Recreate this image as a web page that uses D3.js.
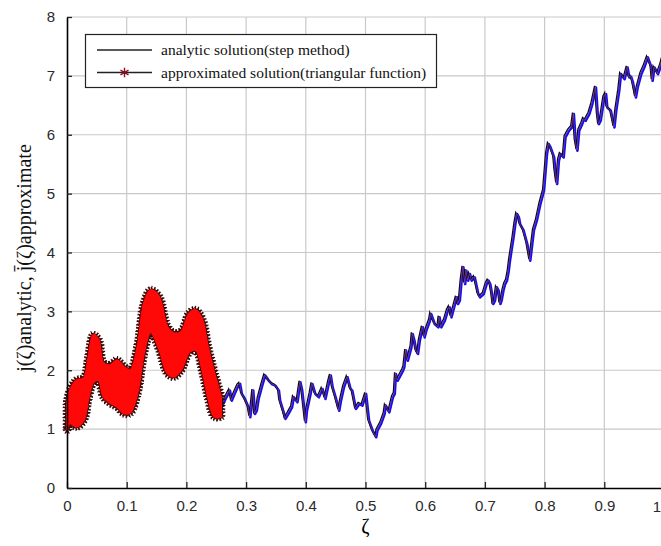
<!DOCTYPE html>
<html>
<head>
<meta charset="utf-8">
<script src="https://cdn.jsdelivr.net/npm/d3@7"></script>
<style>
  body { margin: 0; background: #fff; }
  svg { display: block; }
</style>
</head>
<body>
<svg width="661" height="546"></svg>
<script>
// ticks
var xTicks = [0, 0.1, 0.2, 0.3, 0.4, 0.5, 0.6, 0.7, 0.8, 0.9, 1];
var yTicks = [0, 1, 2, 3, 4, 5, 6, 7, 8];

// approximated solution (dense star markers) shown as a thick red band
var bandZeta  = [0, 0.005, 0.016, 0.028, 0.036, 0.044, 0.053, 0.061, 0.073, 0.084, 0.095, 0.106, 0.118,
                 0.129, 0.14, 0.154, 0.168, 0.179, 0.191, 0.205, 0.216, 0.227, 0.236, 0.247, 0.258];
var bandUpper = [1.45, 1.66, 1.83, 1.86, 2.23, 2.60, 2.51, 2.12, 2.09, 2.17, 2.06, 2.00, 2.40,
                 3.14, 3.36, 3.25, 2.74, 2.63, 2.65, 2.97, 3.02, 2.85, 2.40, 1.95, 1.55];
var bandLower = [0.98, 1.10, 1.04, 1.15, 1.53, 1.79, 1.83, 1.55, 1.44, 1.38, 1.27, 1.28, 1.61,
                 2.29, 2.65, 2.37, 1.95, 1.89, 2.00, 2.31, 2.34, 1.98, 1.55, 1.21, 1.21];

// analytic solution (step method)
var lineZeta = [0.258,0.266,0.272,0.275,0.281,0.286,0.289,0.292,0.297,0.303,0.306,0.309,0.311,0.314,0.317,0.320,
  0.326,0.331,0.337,0.342,0.348,0.354,0.356,0.362,0.365,0.370,0.376,0.379,0.385,0.390,0.393,0.399,0.401,0.407,
  0.410,0.415,0.421,0.427,0.432,0.438,0.441,0.444,0.449,0.455,0.458,0.463,0.469,0.474,0.477,0.483,0.489,0.494,
  0.500,0.505,0.511,0.517,0.519,0.525,0.531,0.533,0.539,0.545,0.548,0.550,
  0.553,0.556,0.562,0.564,0.567,0.570,0.576,0.578,0.581,0.584,0.587,0.590,0.595,0.598,0.601,0.607,0.609,0.615,
  0.621,0.623,0.626,0.632,0.637,0.640,0.643,0.649,0.652,0.654,0.657,0.660,0.663,0.666,0.668,0.671,0.674,0.677,
  0.682,0.688,0.691,0.697,0.702,0.705,0.708,0.711,0.713,0.716,0.719,0.722,0.725,0.727,0.730,0.733,0.736,0.739,
  0.741,0.747,0.750,0.753,0.756,0.758,0.764,0.770,0.772,0.775,
  0.781,0.786,0.792,0.798,0.803,0.806,0.809,0.815,0.817,0.820,0.823,0.826,0.831,0.834,0.840,0.845,0.848,0.851,
  0.854,0.857,0.862,0.865,0.868,0.874,0.879,0.885,0.888,0.890,0.893,0.899,0.902,0.904,0.910,0.916,0.919,0.924,
  0.927,0.933,0.938,0.941,0.944,0.947,0.952,0.955,0.961,0.966,0.972,0.978,0.980,0.983,0.989,0.994,1.000];
var lineValue = [1.381,1.551,1.664,1.494,1.636,1.749,1.777,1.607,1.522,1.381,1.211,1.466,1.664,1.268,1.324,1.522,
  1.749,1.919,1.834,1.777,1.749,1.664,1.494,1.296,1.183,1.268,1.381,1.551,1.466,1.805,1.664,1.126,1.324,1.607,
  1.777,1.607,1.551,1.692,1.522,1.805,1.919,1.720,1.551,1.324,1.494,1.720,1.890,1.692,1.664,1.353,1.437,1.409,
  1.607,1.154,0.985,0.872,0.985,1.098,1.268,1.409,1.296,1.551,1.607,1.947,
  1.834,1.890,2.003,2.060,2.343,2.173,2.400,2.626,2.513,2.343,2.286,2.513,2.739,2.569,2.683,2.852,2.966,2.796,
  2.739,2.909,2.739,2.852,3.022,3.079,2.909,3.135,3.248,3.135,3.192,3.531,3.758,3.475,3.701,3.531,3.645,3.531,
  3.588,3.305,3.248,3.305,3.475,3.531,3.475,3.305,3.135,3.192,3.418,3.362,3.135,3.192,3.362,3.475,3.531,3.701,
  3.871,4.267,4.494,4.663,4.607,4.494,4.380,4.154,4.041,3.871,
  4.380,4.550,4.833,5.059,5.682,5.852,5.795,5.625,5.399,5.173,5.569,5.682,5.625,5.965,6.078,6.135,6.361,5.908,
  5.739,6.078,6.191,6.276,6.248,6.361,6.531,6.814,6.361,6.191,6.248,6.644,6.701,6.474,6.418,6.135,6.418,6.757,
  7.040,6.955,7.153,6.984,6.995,6.899,6.644,6.814,7.040,7.153,7.323,7.153,6.927,7.153,7.040,7.182,7.408];

var legendLabels = ["analytic solution(step method)", "approximated solution(triangular function)"];

function drawChart()
{
    var svg = d3.select("svg");
    var left = 67, right = 664, top = 17, bottom = 488;

    var x = d3.scaleLinear().domain([0, 1]).range([left, right]);
    var y = d3.scaleLinear().domain([0, 8]).range([bottom, top]);

    svg.append("clipPath").attr("id", "plot")
        .append("rect")
        .attr("x", left - 5).attr("y", top)
        .attr("width", right - left + 5).attr("height", bottom - top);

    // grid
    svg.append("g").selectAll("line.gx")
        .data(xTicks.slice(1))
        .enter().append("line")
        .attr("x1", function(d) { return x(d); })
        .attr("x2", function(d) { return x(d); })
        .attr("y1", top).attr("y2", bottom)
        .attr("stroke", "#c9c9c9").attr("stroke-width", 1.2);
    svg.append("g").selectAll("line.gy")
        .data(yTicks.slice(1))
        .enter().append("line")
        .attr("x1", left).attr("x2", right)
        .attr("y1", function(d) { return y(d); })
        .attr("y2", function(d) { return y(d); })
        .attr("stroke", "#c9c9c9").attr("stroke-width", 1.2);

    // curves
    var plot = svg.append("g").attr("clip-path", "url(#plot)");

    var pts = lineZeta.map(function(z, i) { return [z, lineValue[i]]; });
    var line = d3.line()
        .x(function(d) { return x(d[0]); })
        .y(function(d) { return y(d[1]); });

    plot.append("path").datum(pts)
        .attr("d", line)
        .attr("transform", "translate(0.6,0.6)")
        .attr("fill", "none").attr("stroke", "#1010ee")
        .attr("stroke-width", 2.6).attr("stroke-linejoin", "round");
    plot.append("path").datum(pts)
        .attr("d", line)
        .attr("transform", "translate(-0.8,-1)")
        .attr("fill", "none").attr("stroke", "#0a0a1a")
        .attr("stroke-width", 1.3);
    plot.append("path").datum(pts)
        .attr("d", line)
        .attr("fill", "none").attr("stroke", "#e0569a")
        .attr("stroke-width", 0.7).attr("opacity", 0.6);

    var band = bandZeta.map(function(z, i) { return [z, bandLower[i], bandUpper[i]]; });
    var area = d3.area()
        .curve(d3.curveCatmullRom)
        .x(function(d) { return x(d[0]); })
        .y0(function(d) { return y(d[1]); })
        .y1(function(d) { return y(d[2]); });

    // star markers along the outline of the band give its spiky dark edge
    var outline = plot.append("path").datum(band)
        .attr("d", area)
        .attr("fill", "none").attr("stroke", "none");
    var node = outline.node();
    var total = node.getTotalLength();
    var spots = d3.range(0, total, 2.2).map(function(l) { return node.getPointAtLength(l); });
    var star = d3.symbol().type(d3.symbolAsterisk).size(55)();
    plot.append("g").selectAll("path")
        .data(spots)
        .enter().append("path")
        .attr("d", star)
        .attr("transform", function(p, i) { return "translate(" + p.x + "," + p.y + ") rotate(" + (i % 3) * 15 + ")"; })
        .attr("fill", "none").attr("stroke", "#3c0606").attr("stroke-width", 1.1);

    plot.append("path").datum(band)
        .attr("d", area)
        .attr("fill", "#ff0808")
        .attr("stroke", "#ff0808").attr("stroke-width", 2);

    // axes
    var xAxis = d3.axisBottom(x).tickValues(xTicks.slice(0, -1)).tickSizeInner(-6).tickSizeOuter(0)
        .tickPadding(12).tickFormat(function(d) { return d === 0 ? "0" : d3.format(".1f")(d); });
    var gx = svg.append("g").attr("transform", "translate(0," + bottom + ")").call(xAxis);
    gx.select(".domain").attr("stroke", "#000").attr("stroke-width", 1.6);
    gx.selectAll(".tick line").attr("stroke", "#222").attr("stroke-width", 1.3);
    gx.selectAll("text")
        .attr("font-family", "Liberation Sans, Arial, sans-serif")
        .attr("font-size", 15).attr("fill", "#2a2a2a");
    // last tick label sits at the cropped right edge
    svg.append("text")
        .attr("x", 661).attr("y", bottom + 24)
        .attr("text-anchor", "end")
        .attr("font-family", "Liberation Sans, Arial, sans-serif")
        .attr("font-size", 15).attr("fill", "#2a2a2a")
        .text(xTicks[xTicks.length - 1]);

    var yAxis = d3.axisLeft(y).tickValues(yTicks).tickSizeInner(-5).tickSizeOuter(0).tickPadding(12);
    var gy = svg.append("g").attr("transform", "translate(" + left + ",0)").call(yAxis);
    gy.select(".domain").attr("stroke", "#000").attr("stroke-width", 1.6);
    gy.selectAll(".tick line").attr("stroke", "#222").attr("stroke-width", 1.3);
    gy.selectAll("text")
        .attr("font-family", "Liberation Sans, Arial, sans-serif")
        .attr("font-size", 15).attr("fill", "#2a2a2a");

    // axis titles
    svg.append("text")
        .attr("x", x(0.5)).attr("y", 533)
        .attr("text-anchor", "middle")
        .attr("font-family", "Liberation Serif, Times New Roman, serif")
        .attr("font-size", 20)
        .text("ζ");

    svg.append("text")
        .attr("transform", "translate(31,258) rotate(-90)")
        .attr("text-anchor", "middle")
        .attr("font-family", "Liberation Serif, Times New Roman, serif")
        .attr("font-size", 20)
        .attr("fill", "#111")
        .text("j(ζ)analytic, j\u0304(ζ)approximate");

    // legend
    var lg = svg.append("g");
    lg.append("rect")
        .attr("x", 85.5).attr("y", 34.5).attr("width", 351).attr("height", 53)
        .attr("fill", "#fff").attr("stroke", "#222").attr("stroke-width", 1.2);
    var rows = [50, 72.5];
    lg.selectAll("line.leg")
        .data(rows)
        .enter().append("line")
        .attr("x1", 97).attr("x2", 152)
        .attr("y1", function(d) { return d; })
        .attr("y2", function(d) { return d; })
        .attr("stroke", "#222").attr("stroke-width", 1.3);
    lg.append("path")
        .attr("d", d3.symbol().type(d3.symbolAsterisk).size(60)())
        .attr("transform", "translate(124.5," + rows[1] + ")")
        .attr("fill", "none").attr("stroke", "#8a0f1e").attr("stroke-width", 1.4);
    lg.selectAll("text")
        .data(legendLabels)
        .enter().append("text")
        .attr("x", 161)
        .attr("y", function(d, i) { return rows[i] + 5; })
        .attr("font-family", "Liberation Serif, Times New Roman, serif")
        .attr("font-size", 15.5)
        .attr("fill", "#111")
        .text(function(d) { return d; });
}

drawChart();
</script>
</body>
</html>
